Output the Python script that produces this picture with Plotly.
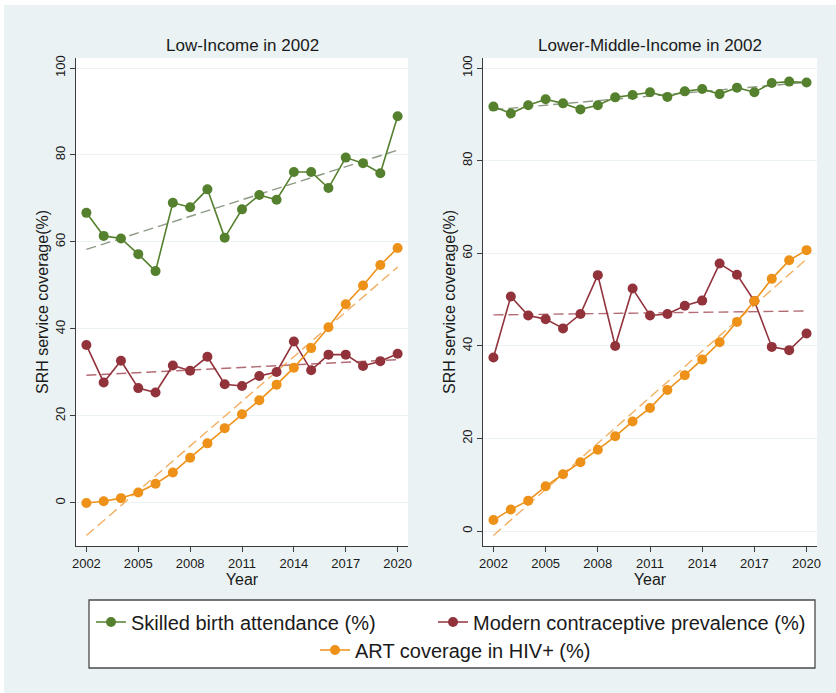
import numpy as np
import plotly.graph_objects as go

# ---- data -------------------------------------------------------------
years = list(range(2002, 2021))
x_ticks = [2002, 2005, 2008, 2011, 2014, 2017, 2020]
y_ticks = [0, 20, 40, 60, 80, 100]

series_names = [
    "Skilled birth attendance (%)",
    "Modern contraceptive prevalence (%)",
    "ART coverage in HIV+ (%)",
]
panel_titles = ["Low-Income in 2002", "Lower-Middle-Income in 2002"]

# Low-income countries
low_sba = [66.7, 61.4, 60.8, 57.2, 53.3, 69.0, 68.0, 72.1, 61.0, 67.5,
           70.8, 69.7, 76.1, 76.1, 72.4, 79.4, 78.1, 75.8, 88.9]
low_mcp = [36.3, 27.7, 32.7, 26.4, 25.4, 31.6, 30.4, 33.6, 27.3, 26.9,
           29.2, 30.1, 37.1, 30.5, 34.1, 34.1, 31.5, 32.6, 34.3]
low_art = [0.0, 0.4, 1.1, 2.4, 4.4, 7.0, 10.4, 13.7, 17.2, 20.4,
           23.6, 27.2, 31.1, 35.6, 40.4, 45.7, 50.0, 54.7, 58.6]

# Lower-middle-income countries
lmi_sba = [91.7, 90.2, 92.0, 93.3, 92.4, 91.1, 92.0, 93.7, 94.2, 94.8,
           93.8, 95.0, 95.5, 94.4, 95.8, 94.8, 96.8, 97.1, 96.9]
lmi_mcp = [37.5, 50.7, 46.6, 45.8, 43.8, 46.9, 55.3, 40.0, 52.4, 46.6,
           46.9, 48.7, 49.8, 57.8, 55.4, 49.7, 39.8, 39.1, 42.7]
lmi_art = [2.4, 4.7, 6.6, 9.7, 12.3, 14.9, 17.6, 20.5, 23.7, 26.6,
           30.5, 33.7, 37.1, 40.8, 45.2, 49.7, 54.5, 58.5, 60.7]

# ---- styling ----------------------------------------------------------
FONT = "Liberation Sans, Arial, Helvetica, sans-serif"
TEXT = "#1a1a1a"
BG = "#EAF2F3"
AXIS = "#3c3c3c"
line_colors = ["#55812F", "#92333C", "#EE9118"]
fit_colors = ["rgba(120,135,110,0.85)", "rgba(165,80,90,0.85)", "rgba(240,160,70,0.85)"]
legend_ids = ["legend", "legend2", "legend3"]

panels = [
    ("x", "y", [low_sba, low_mcp, low_art]),
    ("x2", "y2", [lmi_sba, lmi_mcp, lmi_art]),
]

fig = go.Figure()

for p, (xa, ya, data) in enumerate(panels):
    # linear fits, drawn beneath the observed series
    for k, vals in enumerate(data):
        coef = np.polyfit(years, vals, 1)
        ends = [years[0], years[-1]]
        fig.add_trace(go.Scatter(
            x=ends, y=np.polyval(coef, ends).tolist(), xaxis=xa, yaxis=ya,
            mode="lines", line=dict(color=fit_colors[k], width=1.4, dash="10px,5px"),
            showlegend=False, hoverinfo="skip"))
    for k, vals in enumerate(data):
        fig.add_trace(go.Scatter(
            x=years, y=vals, xaxis=xa, yaxis=ya, name=series_names[k],
            mode="lines+markers",
            line=dict(color=line_colors[k], width=1.6),
            marker=dict(color=line_colors[k], size=10, symbol="circle"),
            legend=legend_ids[k], showlegend=(p == 0)))

# ---- geometry (pixels -> paper) ---------------------------------------
W, H = 836, 693
ML, MR, MT, MB = 76, 19, 58, 147
PW, PH = W - ML - MR, H - MT - MB


def px(v):
    return (v - ML) / PW


def py(v):
    return (H - MB - v) / PH


dom_left = [0, px(408)]
dom_right = [px(483), 1]

axis_common = dict(
    showline=True, linecolor=AXIS, linewidth=1.3,
    ticks="outside", ticklen=5, tickwidth=1.2, tickcolor=AXIS,
    tickfont=dict(family=FONT, size=13, color=TEXT),
    zeroline=False, mirror=False,
)

xcommon = dict(axis_common, range=[2001.4, 2020.6], tickvals=x_ticks,
               showgrid=False,
               title=dict(text="Year", font=dict(family=FONT, size=16, color=TEXT), standoff=3))
ycommon = dict(axis_common, tickvals=y_ticks, tickangle=-90,
               showgrid=True, gridcolor=BG, gridwidth=1.2,
               title=dict(text="SRH service coverage(%)",
                          font=dict(family=FONT, size=16, color=TEXT), standoff=0))

legend_common = dict(
    orientation="h", bgcolor="rgba(0,0,0,0)", borderwidth=0,
    font=dict(family=FONT, size=20, color=TEXT),
    xanchor="left", yanchor="middle", itemclick=False, itemdoubleclick=False,
)

fig.update_layout(
    width=W, height=H,
    margin=dict(l=ML, r=MR, t=MT, b=MB, autoexpand=False),
    paper_bgcolor=BG, plot_bgcolor="white",
    font=dict(family=FONT, color=TEXT),
    xaxis=dict(xcommon, domain=dom_left, anchor="y"),
    yaxis=dict(ycommon, domain=[0, 1], anchor="x", range=[-9.9, 102.3]),
    xaxis2=dict(xcommon, domain=dom_right, anchor="y2"),
    yaxis2=dict(ycommon, domain=[0, 1], anchor="x2", range=[-3.2, 102.2]),
    legend=dict(legend_common, x=px(91), y=py(622)),
    legend2=dict(legend_common, x=px(433), y=py(622)),
    legend3=dict(legend_common, x=px(315), y=py(650)),
    showlegend=True,
    annotations=[
        dict(text=panel_titles[0], xref="paper", yref="paper",
             x=(dom_left[0] + dom_left[1]) / 2, y=py(45), xanchor="center", yanchor="middle",
             showarrow=False, font=dict(family=FONT, size=17, color=TEXT)),
        dict(text=panel_titles[1], xref="paper", yref="paper",
             x=(dom_right[0] + dom_right[1]) / 2, y=py(45), xanchor="center", yanchor="middle",
             showarrow=False, font=dict(family=FONT, size=17, color=TEXT)),
    ],
    shapes=[
        # white page edge along the top and left
        dict(type="rect", xref="paper", yref="paper", x0=px(0), x1=px(W), y0=py(5), y1=py(0),
             fillcolor="white", line=dict(width=0), layer="below"),
        dict(type="rect", xref="paper", yref="paper", x0=px(0), x1=px(4), y0=py(H), y1=py(0),
             fillcolor="white", line=dict(width=0), layer="below"),
        # legend frame
        dict(type="rect", xref="paper", yref="paper", x0=px(89), x1=px(815), y0=py(668), y1=py(600),
             fillcolor="white", line=dict(color="#4a4a4a", width=1.3), layer="below"),
    ],
)

fig.write_html("out.html")
